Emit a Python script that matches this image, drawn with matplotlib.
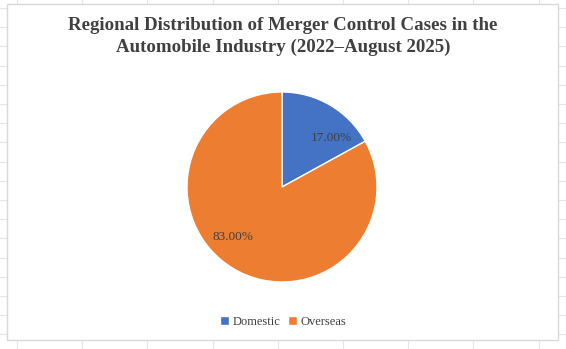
import matplotlib.pyplot as plt
from matplotlib.patches import Rectangle

W, H = 566, 349

regions = ["Domestic", "Overseas"]
shares = [17.0, 83.0]
colors = ["#4472C4", "#ED7D31"]
title = "Regional Distribution of Merger Control Cases in the\nAutomobile Industry (2022\u2013August 2025)"

plt.rcParams["font.family"] = ["Liberation Serif", "DejaVu Serif"]

fig = plt.figure(figsize=(W / 100, H / 100), dpi=100)

# worksheet cells behind the chart object
bg = fig.add_axes([0, 0, 1, 1])
bg.set_xlim(0, W)
bg.set_ylim(H, 0)
bg.axis("off")
for k in range(9):
    x = 17 + 65.2 * k
    bg.plot([x, x], [0, H], color="#e6e6e6", lw=0.8)
for k in range(18):
    y = 8 + 19.2 * k
    bg.plot([0, W], [y, y], color="#e6e6e6", lw=0.8)
bg.add_patch(Rectangle((7, 4), 551, 336, facecolor="white",
                       edgecolor="#d9d9d9", lw=1.0, zorder=3))

fig.text(283 / W, 1 - 36.5 / H, title, ha="center", va="center",
         fontsize=13.6, fontweight="bold", color="#404040", linespacing=1.28)

# pie: centre (282, 187), radius 95 px
r = 95
ax = fig.add_axes([(282 - r) / W, 1 - (187 + r) / H, 2 * r / W, 2 * r / H])
wedges, _, pct = ax.pie(shares, colors=colors, startangle=90, counterclock=False,
                        autopct="%.2f%%", radius=1,
                        wedgeprops=dict(edgecolor="white", linewidth=1.0),
                        textprops=dict(fontsize=9.5, color="#404040"))
ax.set_xlim(-1, 1)
ax.set_ylim(-1, 1)
pct[0].set_position((0.52, 0.52))
pct[1].set_position((-0.52, -0.53))

fig.legend(wedges, regions, loc="center", bbox_to_anchor=(283 / W, 1 - 322 / H),
           ncol=2, frameon=False, fontsize=9, handlelength=0.7, handleheight=0.7,
           handletextpad=0.3, columnspacing=0.6, labelcolor="#404040")

fig.savefig("out.png", dpi=100)
